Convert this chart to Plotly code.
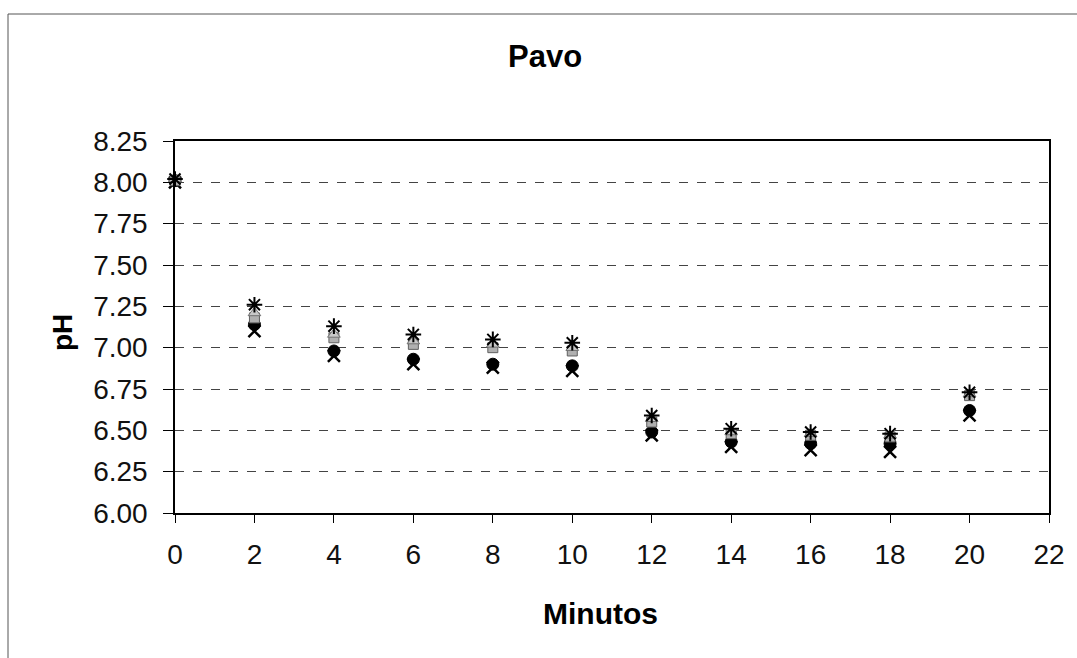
import plotly.graph_objects as go

minutos = [0, 2, 4, 6, 8, 10, 12, 14, 16, 18, 20]
serie_estrella = [8.02, 7.26, 7.13, 7.08, 7.05, 7.03, 6.59, 6.51, 6.49, 6.48, 6.73]
serie_triangulo = [8.02, 7.21, 7.08, 7.04, 7.02, 7.00, 6.57, 6.49, 6.48, 6.47, 6.72]
serie_cuadrado = [8.01, 7.18, 7.06, 7.02, 7.00, 6.98, 6.55, 6.48, 6.47, 6.46, 6.71]
serie_circulo = [8.01, 7.14, 6.98, 6.93, 6.90, 6.89, 6.49, 6.43, 6.42, 6.42, 6.62]
serie_cruz = [8.00, 7.10, 6.95, 6.90, 6.88, 6.86, 6.47, 6.40, 6.38, 6.37, 6.59]

fig = go.Figure()

def add(y, symbol, color, size, lw, lc):
    fig.add_trace(go.Scatter(
        x=minutos, y=y, mode="markers", cliponaxis=False, showlegend=False,
        marker=dict(symbol=symbol, color=color, size=size,
                    line=dict(width=lw, color=lc))))

add(serie_cruz, "x-thin-open", "black", 12, 2.5, "black")
add(serie_circulo, "circle", "black", 12, 1, "black")
add(serie_cuadrado, "square", "#b0b0b0", 10, 1, "#606060")
add(serie_triangulo, "triangle-up", "#c8c8c8", 11, 1, "#707070")
add(serie_estrella, "asterisk-open", "black", 13, 2, "black")

L, R, T, B = 175, 28, 141, 145
W, H = 1077, 658
pw, ph = W - L - R, H - T - B

def px(x):
    return (x - L) / pw

def py(y):
    return (H - B - y) / ph

font_family = "Liberation Sans, Arial, sans-serif"

fig.update_layout(
    width=W, height=H,
    margin=dict(l=L, r=R, t=T, b=B),
    paper_bgcolor="white", plot_bgcolor="white",
    font=dict(family=font_family, color="black"),
    xaxis=dict(range=[0, 22], tickvals=list(range(0, 23, 2)),
               showgrid=False, zeroline=False,
               showline=True, linecolor="black", linewidth=1.5, mirror=True,
               ticks="outside", ticklen=8, tickcolor="black",
               ticklabelstandoff=8,
               tickfont=dict(size=28, color="#111111")),
    yaxis=dict(range=[6, 8.25], tickvals=[6 + 0.25 * i for i in range(10)],
               tickformat=".2f",
               showgrid=True, gridcolor="#444444", griddash="dash", gridwidth=1,
               zeroline=False,
               showline=True, linecolor="black", linewidth=1.5, mirror=True,
               ticks="outside", ticklen=10, tickcolor="black",
               ticklabelstandoff=10,
               tickfont=dict(size=28, color="#111111")),
    annotations=[
        dict(text="<b>Pavo</b>", xref="paper", yref="paper",
             x=px(545), y=py(57), xanchor="center", yanchor="middle",
             showarrow=False, font=dict(size=31)),
        dict(text="<b>Minutos</b>", xref="paper", yref="paper",
             x=px(600), y=py(613), xanchor="center", yanchor="middle",
             showarrow=False, font=dict(size=30)),
        dict(text="<b>pH</b>", xref="paper", yref="paper",
             x=px(62), y=py(333), xanchor="center", yanchor="middle",
             textangle=-90, showarrow=False, font=dict(size=28)),
    ],
)

fig.add_shape(type="rect", xref="paper", yref="paper",
              x0=px(8), x1=px(1200), y0=py(800), y1=py(14),
              line=dict(color="#555555", width=1), layer="below")

fig.write_html("out.html")
